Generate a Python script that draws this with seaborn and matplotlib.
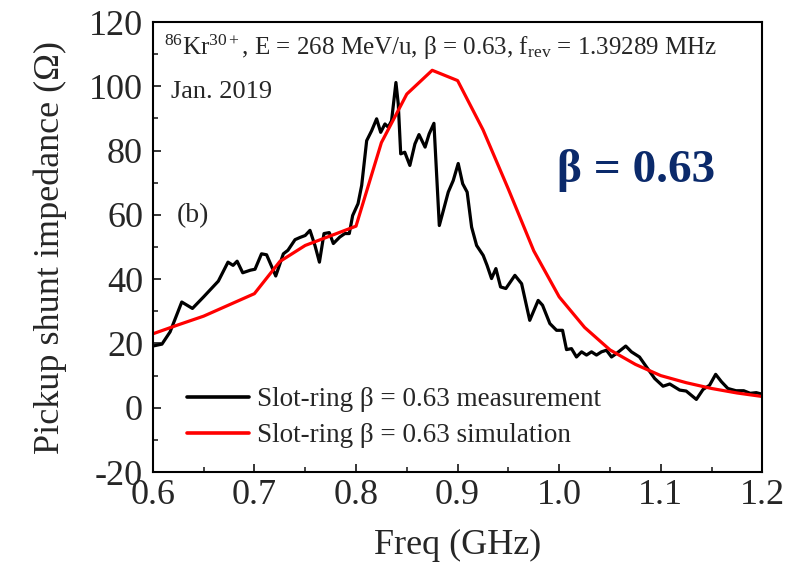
import numpy as np
import pandas as pd
import matplotlib
matplotlib.use("Agg")
import matplotlib.pyplot as plt
import seaborn as sns

# ---- data ----
meas_freq = [0.600, 0.609, 0.617, 0.6285, 0.639, 0.650, 0.6645, 0.674, 0.679, 0.683,
             0.6885, 0.696, 0.7006, 0.707, 0.712, 0.721, 0.7285, 0.733, 0.740, 0.745,
             0.750, 0.7547, 0.7596, 0.764, 0.7685, 0.7737, 0.7777, 0.784, 0.789, 0.7934,
             0.7967, 0.802, 0.8056, 0.8105, 0.8154, 0.8203, 0.8243, 0.8285, 0.8317, 0.835,
             0.8393, 0.8416, 0.844, 0.848, 0.853, 0.858, 0.862, 0.868, 0.872, 0.8767,
             0.882, 0.886, 0.8908, 0.8957, 0.9006, 0.905, 0.9094, 0.9138, 0.9187, 0.9252,
             0.929, 0.9334, 0.9377, 0.9423, 0.9475, 0.9564, 0.963, 0.971, 0.9793, 0.9836,
             0.9908, 0.9974, 1.0033, 1.0072, 1.0121, 1.017, 1.022, 1.0269, 1.0318, 1.0367,
             1.0416, 1.0465, 1.0515, 1.0564, 1.0655, 1.0711, 1.079, 1.0859, 1.094, 1.1022,
             1.1088, 1.1186, 1.125, 1.130, 1.135, 1.1416, 1.148, 1.154, 1.1597, 1.166,
             1.174, 1.1816, 1.188, 1.194, 1.200]
meas_imp = [19.2, 19.8, 23.6, 32.9, 30.9, 34.5, 39.4, 45.3, 44.3, 45.6,
            42.0, 42.8, 43.1, 47.9, 47.6, 41.0, 47.9, 49.0, 52.3, 53.0,
            53.6, 55.2, 50.5, 45.3, 54.2, 54.5, 51.1, 53.1, 54.2, 54.2,
            59.8, 63.5, 69.2, 83.1, 86.2, 89.9, 85.7, 88.3, 87.3, 89.3,
            101.2, 94.5, 79.0, 79.5, 75.4, 82.1, 85.0, 81.1, 85.2, 88.5,
            56.7, 61.4, 67.1, 70.7, 76.0, 69.7, 67.1, 56.2, 50.5, 47.4,
            44.3, 40.2, 43.3, 37.6, 37.1, 41.2, 38.6, 27.2, 33.4, 31.9,
            26.2, 24.1, 24.1, 18.1, 18.4, 15.8, 17.4, 16.4, 17.4, 16.4,
            17.4, 17.9, 15.8, 16.9, 19.2, 17.4, 15.8, 12.7, 9.1, 6.7,
            7.4, 5.5, 5.2, 3.9, 2.6, 5.7, 7.0, 10.4, 8.1, 6.0,
            5.3, 5.3, 4.5, 4.7, 4.2]

sim_freq = [0.600, 0.625, 0.650, 0.675, 0.700, 0.725, 0.750, 0.775, 0.800, 0.825,
            0.850, 0.875, 0.900, 0.925, 0.950, 0.975, 1.000, 1.025, 1.050, 1.075,
            1.100, 1.125, 1.150, 1.175, 1.200]
sim_imp = [23.0, 25.8, 28.5, 32.0, 35.5, 45.5, 50.5, 53.5, 56.5, 82.5,
           97.6, 105.0, 101.8, 86.5, 68.0, 48.8, 34.5, 25.0, 18.0, 13.5,
           10.0, 7.8, 6.0, 4.6, 3.5]

label_meas = "Slot-ring β = 0.63 measurement"
label_sim = "Slot-ring β = 0.63 simulation"
x_ticks = [0.6, 0.7, 0.8, 0.9, 1.0, 1.1, 1.2]
y_ticks = [-20, 0, 20, 40, 60, 80, 100, 120]

# ---- style ----
sns.set_theme(style="ticks")
plt.rcParams["font.family"] = ["Liberation Serif", "DejaVu Serif"]
plt.rcParams["mathtext.fontset"] = "custom"
plt.rcParams["mathtext.rm"] = "Liberation Serif"
plt.rcParams["mathtext.it"] = "Liberation Serif:italic"
plt.rcParams["mathtext.bf"] = "Liberation Serif:bold"
plt.rcParams["axes.unicode_minus"] = False

fig = plt.figure(figsize=(8.0, 5.66), dpi=100)
ax = fig.add_axes([0.191, 0.166, 0.762, 0.795])

df_meas = pd.DataFrame({"freq": meas_freq, "imp": meas_imp})
df_sim = pd.DataFrame({"freq": sim_freq, "imp": sim_imp})

sns.lineplot(data=df_meas, x="freq", y="imp", ax=ax, color="black", lw=2.3,
             label=label_meas, sort=False, estimator=None)
sns.lineplot(data=df_sim, x="freq", y="imp", ax=ax, color="#ff0000", lw=2.3,
             label=label_sim, sort=False, estimator=None)

ax.set_xlim(0.6, 1.2)
ax.set_ylim(-20, 120)
ax.set_xticks(x_ticks)
ax.set_xticklabels([f"{v:.1f}" for v in x_ticks])
ax.set_yticks(y_ticks)
ax.set_yticklabels([str(v) for v in y_ticks])
ax.set_xticks(np.arange(0.65, 1.2, 0.1), minor=True)
ax.set_yticks(np.arange(-10, 120, 20), minor=True)
ax.tick_params(axis="both", which="major", direction="in", length=6, width=1.3,
               labelsize=26, pad=5, top=False, right=False)
ax.tick_params(axis="both", which="minor", direction="in", length=3.5, width=1.2,
               top=False, right=False)
ax.tick_params(axis="y", which="major", pad=7)
for s in ax.spines.values():
    s.set_linewidth(1.5)
    s.set_color("black")
    s.set_visible(True)

ax.set_xlabel("Freq (GHz)", fontsize=26, labelpad=12)
ax.set_ylabel("Pickup shunt impedance (Ω)", fontsize=26, labelpad=16)

ax.text(0.018, 0.944, r"$^{86}$Kr$^{30+}$, E = 268 MeV/u, β = 0.63, f$_{\rm rev}$ = 1.39289 MHz",
        transform=ax.transAxes, fontsize=18, va="center", ha="left")
ax.text(0.03, 0.844, "Jan. 2019", transform=ax.transAxes, fontsize=19,
        va="center", ha="left")
ax.text(0.04, 0.571, "(b)", transform=ax.transAxes, fontsize=20,
        va="center", ha="left")
ax.text(0.663, 0.671, "β = 0.63", transform=ax.transAxes, fontsize=34,
        fontweight="bold", color="#0b2a6b", va="center", ha="left")

leg = ax.legend(loc="center left", bbox_to_anchor=(0.056, 0.121), frameon=False,
                fontsize=19.5, handlelength=2.3, handletextpad=0.3,
                borderpad=0, borderaxespad=0, labelspacing=0.4)
for line in leg.get_lines():
    line.set_linewidth(2.6)

fig.savefig("out.png", dpi=100, facecolor="white")
